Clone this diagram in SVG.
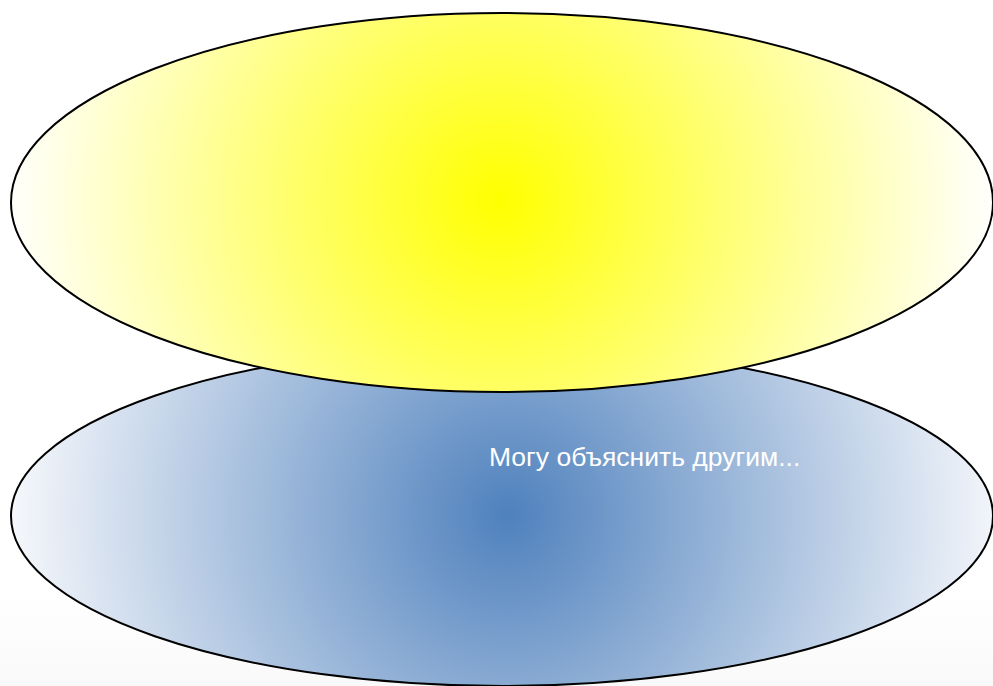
<svg xmlns="http://www.w3.org/2000/svg" width="993" height="686" viewBox="0 0 993 686">
<style>
.shape { stroke: #000000; stroke-width: 2; }
.label { font-family: "Liberation Sans", Arial, sans-serif; font-size: 26.5px; fill: #ffffff; }
</style>
<defs>
<radialGradient id="gYellow" gradientUnits="userSpaceOnUse" cx="500" cy="200" r="495">
<stop offset="0" stop-color="#ffff00"/>
<stop offset="1" stop-color="#ffffff"/>
</radialGradient>
<radialGradient id="gBlue" gradientUnits="userSpaceOnUse" cx="508" cy="515" r="495">
<stop offset="0" stop-color="#4f81bd"/>
<stop offset="1" stop-color="#f5f7fb"/>
</radialGradient>
<linearGradient id="gBg" x1="0" y1="0" x2="0" y2="1">
<stop offset="0" stop-color="#ffffff"/>
<stop offset="1" stop-color="#f9f9f9"/>
</linearGradient>
</defs>
<rect x="0" y="0" width="993" height="686" fill="#ffffff"/>
<rect x="0" y="590" width="993" height="96" fill="url(#gBg)"/>
<g id="node-blue">
<ellipse class="shape" cx="502" cy="516" rx="491" ry="170" fill="url(#gBlue)"/>
<text class="label" x="489" y="466">Могу объяснить другим...</text>
</g>
<g id="node-yellow">
<ellipse class="shape" cx="502" cy="202.5" rx="491" ry="189.5" fill="url(#gYellow)"/>
</g>
<g id="connectors"></g>
</svg>
